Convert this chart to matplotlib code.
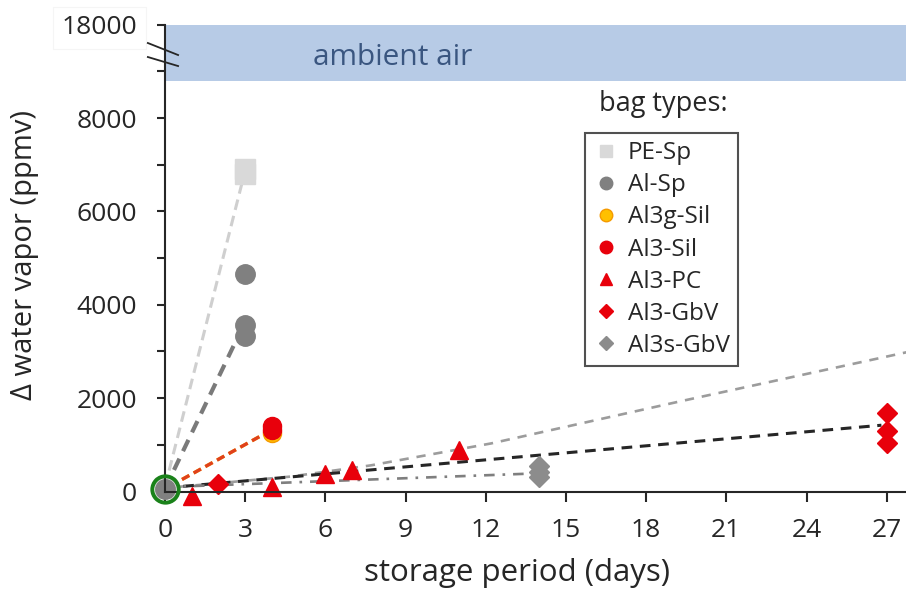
import numpy as np
import matplotlib
matplotlib.use("Agg")
import matplotlib.pyplot as plt
from matplotlib.lines import Line2D

plt.rcParams['font.family'] = ['Open Sans', 'DejaVu Sans']

# measured points (days, ppmv)
pe_sp_x = [0, 3, 3]
pe_sp_y = [80, 6900, 6810]
al_sp_x = [0, 3, 3, 3]
al_sp_y = [50, 4650, 3560, 3330]
al3g_sil_x = [4]
al3g_sil_y = [1250]
al3_sil_x = [4, 4]
al3_sil_y = [1400, 1320]
al3_pc_x = [1, 4, 6, 7, 11]
al3_pc_y = [-90, 90, 370, 460, 880]
al3_gbv_x = [2, 27, 27, 27]
al3_gbv_y = [170, 1690, 1300, 1030]
al3s_gbv_x = [14, 14, 14]
al3s_gbv_y = [550, 420, 310]
start_x = [0]
start_y = [60]

# trend lines
pe_fit_x = [0, 2.9]
pe_fit_y = [100, 6650]
alsp_fit_x = [0, 2.7]
alsp_fit_y = [60, 3280]
sil_fit_x = [0.2, 3.8]
sil_fit_y = [120, 1260]
pc_fit_x = [0.5, 4.7, 7.7, 12.2, 19.3, 27.8]
pc_fit_y = [100, 320, 560, 1030, 1935, 2990]
gbv_fit_x = [0, 26.8]
gbv_fit_y = [77, 1420]
sgbv_fit_x = [0, 13.5]
sgbv_fit_y = [95, 380]

ambient_low, ambient_high = 8800, 18000
yticks = [0, 2000, 4000, 6000, 8000, 18000]


# broken y axis: everything above 9000 squeezed 9x
def sq(y):
    y = np.asarray(y, dtype=float)
    return np.where(y > 9000, 9000 + (y - 9000) / 9.0, y)


fig = plt.figure(figsize=(9.06, 5.89), dpi=100)
ax = fig.add_axes([0.1821, 0.1655, 0.8179, 0.7927])

ax.axhspan(sq(ambient_low), sq(ambient_high), color='#b7cbe6', lw=0, zorder=0)
ax.text(5.55, sq(11700), 'ambient air', color='#3a5680', fontsize=21.5,
        va='center', ha='left')

ax.plot(pe_fit_x, sq(pe_fit_y), color='#cfcfcf', lw=2.2, dashes=(3.5, 2))
ax.plot(alsp_fit_x, sq(alsp_fit_y), color='#7a7a7a', lw=3, dashes=(3, 2))
ax.plot(sil_fit_x, sq(sil_fit_y), color='#f5b800', lw=2.4, dashes=(2.5, 1.5))
ax.plot(sil_fit_x, sq(sil_fit_y), color='#e0401c', lw=2.4, dashes=(2.5, 1.5))
ax.plot(pc_fit_x, sq(pc_fit_y), color='#9c9c9c', lw=1.9, dashes=(3.5, 3))
ax.plot(gbv_fit_x, sq(gbv_fit_y), color='#262626', lw=2.2, dashes=(3.5, 2.5))
ax.plot(sgbv_fit_x, sq(sgbv_fit_y), color='#7f7f7f', lw=1.9, dashes=(4, 3, 1, 3))

ax.plot(pe_sp_x, sq(pe_sp_y), 's', color='#d9d9d9', ms=14, ls='none', clip_on=False)
ax.plot(al_sp_x, sq(al_sp_y), 'o', color='#808080', ms=14, ls='none', clip_on=False)
ax.plot(al3g_sil_x, sq(al3g_sil_y), 'o', mfc='#ffc000', mec='#f59a00', ms=13, ls='none')
ax.plot(al3_sil_x, sq(al3_sil_y), 'o', color='#e8000b', ms=13, ls='none')
ax.plot(al3_pc_x, sq(al3_pc_y), '^', color='#e8000b', ms=13, ls='none', clip_on=False)
ax.plot(al3_gbv_x, sq(al3_gbv_y), 'D', color='#e8000b', ms=10, ls='none', clip_on=False)
ax.plot(al3s_gbv_x, sq(al3s_gbv_y), 'D', color='#8c8c8c', ms=10, ls='none')
ax.plot(start_x, sq(start_y), 'o', mfc='none', mec='#1a821a', ms=19, mew=2.8,
        clip_on=False, zorder=5)

ax.set_xlim(0, 27.72)
ax.set_ylim(0, sq(18000))
ax.set_xticks(np.arange(0, 28, 3))
ax.set_yticks(sq(yticks))
ax.set_yticklabels([str(t) for t in yticks])
ax.set_yticks(sq(np.arange(1000, 9001, 2000)), minor=True)
ax.spines['top'].set_visible(False)
ax.spines['right'].set_visible(False)
for s in ['left', 'bottom']:
    ax.spines[s].set_linewidth(1.5)
    ax.spines[s].set_color('#262626')
ax.tick_params(axis='both', which='both', direction='out', width=1.5, color='#262626',
               labelsize=19, labelcolor='#262626')
ax.tick_params(axis='x', length=7, pad=12)
ax.tick_params(axis='y', which='both', length=6, pad=14)
ax.get_yticklabels()[-1].set_bbox(dict(facecolor='white', edgecolor='#f5f5f5', lw=0.8, pad=6))

# axis break marks
for y_hi, y_lo in [(9606, 9349), (9306, 9113)]:
    ax.plot([-0.64, 0.49], [y_hi, y_lo], color='#262626', lw=1.3, clip_on=False)

ax.set_xlabel('storage period (days)', fontsize=22.5, color='#262626')
ax.xaxis.set_label_coords(0.475, -0.142)
ax.xaxis.label.set_va('top')
ax.set_ylabel('\u0394 water vapor (ppmv)', fontsize=21, color='#262626')
ax.yaxis.set_label_coords(-0.17, 0.507)

handles = [
    Line2D([], [], marker='s', color='#d9d9d9', ls='none', ms=9),
    Line2D([], [], marker='o', color='#808080', ls='none', ms=9),
    Line2D([], [], marker='o', mfc='#ffc000', mec='#f59a00', ls='none', ms=9),
    Line2D([], [], marker='o', color='#e8000b', ls='none', ms=9),
    Line2D([], [], marker='^', color='#e8000b', ls='none', ms=9),
    Line2D([], [], marker='D', color='#e8000b', ls='none', ms=7),
    Line2D([], [], marker='D', color='#8c8c8c', ls='none', ms=7),
]
labels = ['PE-Sp', 'Al-Sp', 'Al3g-Sil', 'Al3-Sil', 'Al3-PC', 'Al3-GbV', 'Al3s-GbV']
leg = ax.legend(handles, labels, loc='upper left', bbox_to_anchor=(0.567, 0.768),
                fontsize=17.5, frameon=True, fancybox=False, edgecolor='#262626',
                handlelength=1.0, handletextpad=0.4, labelspacing=0.33,
                borderpad=0.35, borderaxespad=0)
leg.get_frame().set_linewidth(1.5)
for t in leg.get_texts():
    t.set_color('#262626')
ax.text(0.673, 0.80, 'bag types:', transform=ax.transAxes, fontsize=19.5,
        ha='center', va='bottom', color='#262626')

plt.savefig('out.png', dpi=100)
